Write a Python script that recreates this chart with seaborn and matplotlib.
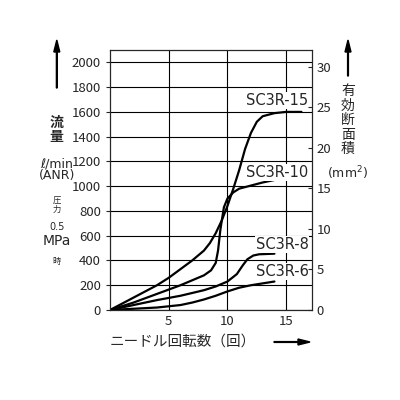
import matplotlib
matplotlib.use("Agg")
import matplotlib.pyplot as plt
import seaborn as sns

sns.set_style("white")
plt.rcParams["font.family"] = ["Noto Sans CJK JP", "DejaVu Sans"]

# 回転数 / 流量 データ
x15 = [0, 2, 4, 5, 6, 7, 8, 8.5, 9, 9.5, 10, 10.5, 11, 11.5, 12, 12.5, 13, 14, 15, 16.3]
y15 = [0, 100, 200, 260, 330, 400, 480, 540, 620, 720, 840, 980, 1130, 1300, 1430, 1520, 1565, 1590, 1600, 1600]
x10 = [0, 2, 4, 6, 7, 8, 8.6, 9.0, 9.2, 9.4, 9.7, 10, 10.5, 11, 12, 13, 14]
y10 = [0, 60, 130, 200, 240, 280, 320, 380, 480, 650, 830, 900, 950, 980, 1005, 1030, 1050]
x8 = [0, 2, 4, 6, 8, 9, 10, 10.8, 11.3, 11.7, 12.2, 12.7, 14]
y8 = [0, 40, 80, 115, 160, 190, 230, 290, 360, 410, 440, 450, 455]
x6 = [0, 2, 4, 6, 7, 8, 9, 10, 11, 12, 13, 14]
y6 = [0, 10, 20, 40, 60, 85, 115, 150, 180, 200, 215, 230]
names = ["SC3R-15", "SC3R-10", "SC3R-8", "SC3R-6"]
label_y = [1610, 1030, 450, 230]

fig = plt.figure(figsize=(4, 4), dpi=100)
ax = fig.add_axes([0.275, 0.225, 0.505, 0.65])
for x, y in [(x15, y15), (x10, y10), (x8, y8), (x6, y6)]:
    sns.lineplot(x=x, y=y, ax=ax, color="black", lw=1.6)
for n, py in zip(names, label_y):
    ax.text(16.9, py + 20, n, ha="right", va="bottom", fontsize=10.5, family=["DejaVu Sans"],
            bbox=dict(facecolor="white", edgecolor="none", pad=0.5))

ax.set_xlim(0, 17.2)
ax.set_ylim(0, 2100)
ax.set_yticks(range(0, 2001, 200))
ax.set_xticks([5, 10, 15])
ax.set_xticks(range(1, 18), minor=True)
ax.tick_params(axis="x", which="both", direction="in", length=3, labelsize=9.5)
ax.tick_params(axis="y", direction="out", length=3, labelsize=9.5)
ax.grid(True, color="black", lw=0.8)
for s in ax.spines.values():
    s.set_color("black")

ax2 = ax.twinx()
ax2.set_ylim(0, 2100 / 65.5)
ax2.set_yticks(range(0, 31, 5))
ax2.tick_params(direction="in", length=3, labelsize=9.5)

cx = 0.142
fig.text(cx, 0.64, "流\n量", ha="center", va="bottom", fontsize=10, weight="bold", linespacing=1.0)
fig.text(cx, 0.575, "ℓ/min\n(ANR)", ha="center", va="center", fontsize=9, linespacing=0.85,
         family=["DejaVu Sans"])
fig.text(cx, 0.465, "圧\n力", ha="center", va="bottom", fontsize=6, linespacing=1.0)
fig.text(cx, 0.42, "0.5", ha="center", va="bottom", fontsize=7, family=["DejaVu Sans"])
fig.text(cx, 0.38, "MPa", ha="center", va="bottom", fontsize=10, family=["DejaVu Sans"])
fig.text(cx, 0.335, "時", ha="center", va="bottom", fontsize=6)
fig.add_artist(matplotlib.patches.FancyArrow(cx, 0.78, 0, 0.09, width=0.002, head_width=0.015,
                                             head_length=0.03, color="black", transform=fig.transFigure))

rx = 0.87
fig.text(rx, 0.79, "有\n効\n断\n面\n積", ha="center", va="top", fontsize=10, linespacing=1.05)
fig.text(rx, 0.59, "(mm$^2$)", ha="center", va="top", fontsize=9, family=["DejaVu Sans"])
fig.add_artist(matplotlib.patches.FancyArrow(rx, 0.81, 0, 0.06, width=0.002, head_width=0.015,
                                             head_length=0.03, color="black", transform=fig.transFigure))

fig.text(0.275, 0.145, "ニードル回転数（回）", ha="left", va="center", fontsize=10.5)
fig.add_artist(matplotlib.patches.FancyArrow(0.685, 0.145, 0.06, 0, width=0.002, head_width=0.015,
                                             head_length=0.03, color="black", transform=fig.transFigure))

fig.savefig("out.png", dpi=100)
